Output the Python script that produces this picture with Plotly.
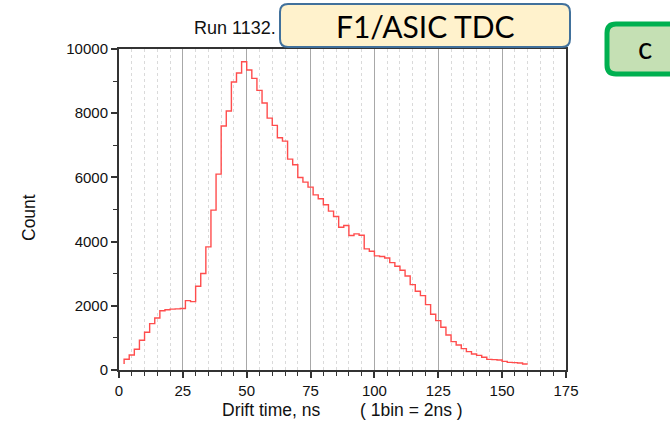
import plotly.graph_objects as go

# ---------------- data ----------------
drift_time_ns = [2, 4, 6, 8, 10, 12, 14, 16, 18, 20,
                 22, 24, 26, 28, 30, 32, 34, 36, 38, 40,
                 42, 44, 46, 48, 50, 52, 54, 56, 58, 60,
                 62, 64, 66, 68, 70, 72, 74, 76, 78, 80,
                 82, 84, 86, 88, 90, 92, 94, 96, 98, 100,
                 102, 104, 106, 108, 110, 112, 114, 116, 118, 120,
                 122, 124, 126, 128, 130, 132, 134, 136, 138, 140,
                 142, 144, 146, 148, 150, 152, 154, 156, 158, 160]

counts = [190, 333, 468, 645, 925, 1175, 1445, 1622, 1845, 1875,
          1895, 1905, 1915, 2160, 2130, 2609, 3004, 3836, 4979, 6102,
          7599, 8067, 8971, 9252, 9605, 9345, 9085, 8711, 8316, 7848,
          7620, 7235, 7131, 6570, 6393, 5998, 5852, 5696, 5457, 5333,
          5146, 4948, 4782, 4449, 4501, 4189, 4241, 4200, 3773, 3701,
          3555, 3534, 3490, 3345, 3230, 3107, 2930, 2660, 2452, 2317,
          2037, 1735, 1538, 1330, 1091, 883, 779, 665, 571, 499,
          457, 395, 332, 322, 312, 270, 239, 229, 218, 187]

x_tick_values = [0, 25, 50, 75, 100, 125, 150, 175]
x_tick_labels = ["0", "25", "50", "75", "100", "125", "150", "175"]
y_tick_values = [0, 2000, 4000, 6000, 8000, 10000]
y_tick_labels = ["0", "2000", "4000", "6000", "8000", "10000"]

# ---------------- geometry helpers (layout only) ----------------
W, H = 670, 430
ML, MR, MT, MB = 119, 104, 49, 60
PW, PH = W - ML - MR, H - MT - MB


def px(x):
    return (x - ML) / PW


def py(y):
    return (H - MB - y) / PH


def rounded_rect(x0, y0, x1, y1, r):
    rx, ry = r / PW, r / PH
    X0, X1 = px(x0), px(x1)
    Y0, Y1 = py(y0), py(y1)  # Y0 top (larger), Y1 bottom
    return (f"M {X0 + rx},{Y0} L {X1 - rx},{Y0} Q {X1},{Y0} {X1},{Y0 - ry} "
            f"L {X1},{Y1 + ry} Q {X1},{Y1} {X1 - rx},{Y1} "
            f"L {X0 + rx},{Y1} Q {X0},{Y1} {X0},{Y1 + ry} "
            f"L {X0},{Y0 - ry} Q {X0},{Y0} {X0 + rx},{Y0} Z")


fig = go.Figure()
fig.add_trace(go.Scatter(
    x=drift_time_ns, y=counts, mode="lines",
    line=dict(color="#FF4D4D", width=1.4, shape="vh"),
    hoverinfo="x+y", showlegend=False,
))

axis_font = dict(family="Liberation Sans, Arial, sans-serif", size=15, color="#111111")

fig.update_layout(
    width=W, height=H,
    margin=dict(l=ML, r=MR, t=MT, b=MB),
    paper_bgcolor="white", plot_bgcolor="white",
    font=axis_font,
    xaxis=dict(
        range=[0, 175], tickvals=x_tick_values, ticktext=x_tick_labels,
        ticks="outside", ticklen=6, tickwidth=1.5, tickcolor="#333333",
        showline=True, linecolor="#333333", linewidth=2, mirror=True,
        showgrid=True, gridcolor="#A8A8A8", gridwidth=1,
        zeroline=False, tickfont=axis_font,
        minor=dict(dtick=5, tick0=0, ticks="outside", ticklen=4, tickwidth=1.2,
                   tickcolor="#333333", showgrid=True, gridcolor="#DADADA",
                   griddash="dot", gridwidth=1),
    ),
    yaxis=dict(
        range=[0, 10000], tickvals=y_tick_values, ticktext=y_tick_labels,
        ticks="outside", ticklen=6, tickwidth=1.5, tickcolor="#333333",
        showline=True, linecolor="#333333", linewidth=2, mirror=True,
        showgrid=False, zeroline=False, tickfont=axis_font,
        minor=dict(dtick=1000, tick0=0, ticks="outside", ticklen=4, tickwidth=1.2,
                   tickcolor="#333333", showgrid=False),
    ),
)

label_font = dict(family="Liberation Sans, Arial, sans-serif", size=17.5, color="#111111")

fig.add_annotation(text="Count", xref="paper", yref="paper", x=px(29), y=py(218),
                   textangle=-90, showarrow=False, font=label_font,
                   xanchor="center", yanchor="middle")
fig.add_annotation(text="Drift time, ns", xref="paper", yref="paper", x=px(271), y=py(410),
                   showarrow=False, font=label_font, xanchor="center", yanchor="middle")
fig.add_annotation(text="( 1bin = 2ns )", xref="paper", yref="paper", x=px(411.5), y=py(410),
                   showarrow=False, font=label_font, xanchor="center", yanchor="middle")
fig.add_annotation(text="Run 1132.", xref="paper", yref="paper", x=px(278), y=py(28),
                   showarrow=False, font=dict(family="Liberation Sans, Arial, sans-serif",
                                              size=18, color="#111111"),
                   xanchor="right", yanchor="middle")

# title box
fig.add_shape(type="path", xref="paper", yref="paper",
              path=rounded_rect(280, 4, 570, 47, 8),
              fillcolor="#FFF2CC", line=dict(color="#41719C", width=2), layer="above")
fig.add_annotation(text="F1/ASIC TDC", xref="paper", yref="paper", x=px(425), y=py(26),
                   showarrow=False, font=dict(family="Lato, Noto Sans, sans-serif", size=30,
                                              color="#000000"),
                   xanchor="center", yanchor="middle")

# panel label box
fig.add_shape(type="path", xref="paper", yref="paper",
              path=rounded_rect(607, 24, 690, 74, 9),
              fillcolor="#C5E0B4", line=dict(color="#00B050", width=5), layer="above")
fig.add_annotation(text="c", xref="paper", yref="paper", x=px(645), y=py(47),
                   showarrow=False, font=dict(family="Lato, Noto Sans, sans-serif", size=30,
                                              color="#000000"),
                   xanchor="center", yanchor="middle")

fig.write_html("out.html",
               config={"displayModeBar": False},
               post_script="document.body.style.margin='0';document.body.style.padding='0';")
